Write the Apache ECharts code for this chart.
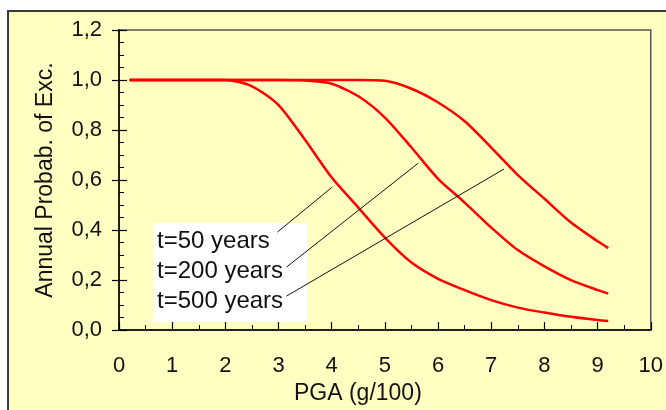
<!DOCTYPE html>
<html>
<head>
<meta charset="utf-8">
<script src="https://cdn.jsdelivr.net/npm/echarts@6/dist/echarts.min.js"></script>
<style>
  html, body { margin: 0; padding: 0; background: #ffffff; }
  #chart { width: 666px; height: 410px; }
</style>
</head>
<body>
<div id="chart"></div>
<script>
// PGA values (g/100) at which the exceedance probabilities are tabulated
const pga = [0.2, 1.0, 1.5, 2.0, 2.5, 3.0, 3.5, 4.0, 4.5, 5.0, 5.5, 6.0, 6.5, 7.0, 7.5, 8.0, 8.5, 9.0, 9.2];

// Annual probability of exceedance for each exposure time
const probT50  = [1.0, 1.0, 1.0, 1.0, 0.975, 0.90, 0.76, 0.61, 0.49, 0.37, 0.27, 0.205, 0.16, 0.12, 0.09, 0.07, 0.053, 0.04, 0.036];
const probT200 = [1.0, 1.0, 1.0, 1.0, 1.0, 1.0, 0.998, 0.985, 0.935, 0.85, 0.73, 0.605, 0.51, 0.41, 0.32, 0.255, 0.20, 0.16, 0.146];
const probT500 = [1.0, 1.0, 1.0, 1.0, 1.0, 1.0, 1.0, 1.0, 1.0, 0.997, 0.965, 0.91, 0.835, 0.73, 0.62, 0.525, 0.43, 0.355, 0.328];

// Legend text and the curve point each leader line reaches (data units)
const curveLabels = ['t=50 years', 't=200 years', 't=500 years'];
const leaderStart = [[2.98, 0.392], [3.15, 0.252], [3.15, 0.136]];
const leaderEnd   = [[4.01, 0.572], [5.63, 0.668], [7.24, 0.644]];

// Axis tick labels
const xTicks = [0, 1, 2, 3, 4, 5, 6, 7, 8, 9, 10];
const yTicks = ['0,0', '0,2', '0,4', '0,6', '0,8', '1,0', '1,2'];

const FONT = '"Liberation Sans", Arial, sans-serif';
const RED = '#ff0000';

function pairs(values) {
  return pga.map((x, i) => [x, values[i]]);
}

function curve(name, values, withLeaders) {
  const s = {
    name: name,
    type: 'line',
    data: pairs(values),
    showSymbol: false,
    smooth: 0.25,
    lineStyle: { color: RED, width: 2.5 },
    itemStyle: { color: RED },
    z: 3
  };
  if (withLeaders) {
    s.markLine = {
      silent: true,
      symbol: 'none',
      label: { show: false },
      lineStyle: { color: '#111', width: 1, type: 'solid' },
      data: leaderStart.map((p, i) => [{ coord: p }, { coord: leaderEnd[i] }])
    };
  }
  return s;
}

const chart = echarts.init(document.getElementById('chart'), null, { renderer: 'canvas' });

chart.setOption({
  animation: false,
  backgroundColor: '#ffffff',
  textStyle: { fontFamily: FONT },
  graphic: [
    {
      // chart frame
      type: 'rect',
      z: -10,
      shape: { x: 8, y: 11, width: 700, height: 450 },
      style: { fill: '#ffffc2', stroke: '#3a3a3a', lineWidth: 2 }
    },
    {
      // white legend panel, below the curves and leader lines
      type: 'rect',
      z: -5,
      shape: { x: 153, y: 223, width: 154, height: 99 },
      style: { fill: '#ffffff', stroke: null }
    },
    {
      type: 'text',
      z: 11,
      x: 157,
      y: 226,
      style: {
        text: curveLabels.join('\n'),
        font: '24px ' + FONT,
        lineHeight: 30,
        fill: '#111',
        verticalAlign: 'top',
        align: 'left'
      }
    }
  ],
  grid: {
    left: 119,
    right: 14,
    top: 30,
    bottom: 79,
    show: true,
    borderColor: '#555',
    borderWidth: 1.5,
    backgroundColor: 'transparent'
  },
  xAxis: {
    type: 'value',
    min: 0,
    max: 10,
    interval: 1,
    name: 'PGA (g/100)',
    nameLocation: 'middle',
    nameGap: 50,
    nameTextStyle: { fontSize: 23, color: '#111', fontFamily: FONT, padding: [0, 54, 0, 0] },
    axisLine: { show: true, onZero: false, lineStyle: { color: '#000', width: 1.5 } },
    axisTick: { show: true, inside: true, length: 8, lineStyle: { color: '#000', width: 1.2 } },
    minorTick: { show: true, splitNumber: 2, length: 5, lineStyle: { color: '#000', width: 1 } },
    axisLabel: {
      fontSize: 22, color: '#111', fontFamily: FONT, margin: 25,
      formatter: v => String(xTicks[Math.round(v)])
    },
    splitLine: { show: false }
  },
  yAxis: [
    {
      type: 'value',
      min: 0,
      max: 1.2,
      interval: 0.2,
      name: 'Annual Probab. of Exc.',
      nameLocation: 'middle',
      nameGap: 62,
      nameTextStyle: { fontSize: 23, color: '#111', fontFamily: FONT },
      axisLine: { show: true, onZero: false, lineStyle: { color: '#000', width: 1.5 } },
      axisTick: { show: true, inside: true, length: 8, lineStyle: { color: '#000', width: 1.2 } },
      minorTick: { show: true, splitNumber: 4, length: 5, lineStyle: { color: '#000', width: 1 } },
      axisLabel: {
        fontSize: 22, color: '#111', fontFamily: FONT, margin: 17,
        formatter: v => yTicks[Math.round(v / 0.2)]
      },
      splitLine: { show: false }
    },
    {
      // outer half of the crossing major ticks
      type: 'value',
      position: 'left',
      min: 0,
      max: 1.2,
      interval: 0.2,
      axisLine: { show: false },
      axisTick: { show: true, inside: false, length: 7, lineStyle: { color: '#000', width: 1.2 } },
      axisLabel: { show: false },
      splitLine: { show: false }
    }
  ],
  series: [
    curve('t=50 years', probT50, true),
    curve('t=200 years', probT200, false),
    curve('t=500 years', probT500, false)
  ]
});
</script>
</body>
</html>
